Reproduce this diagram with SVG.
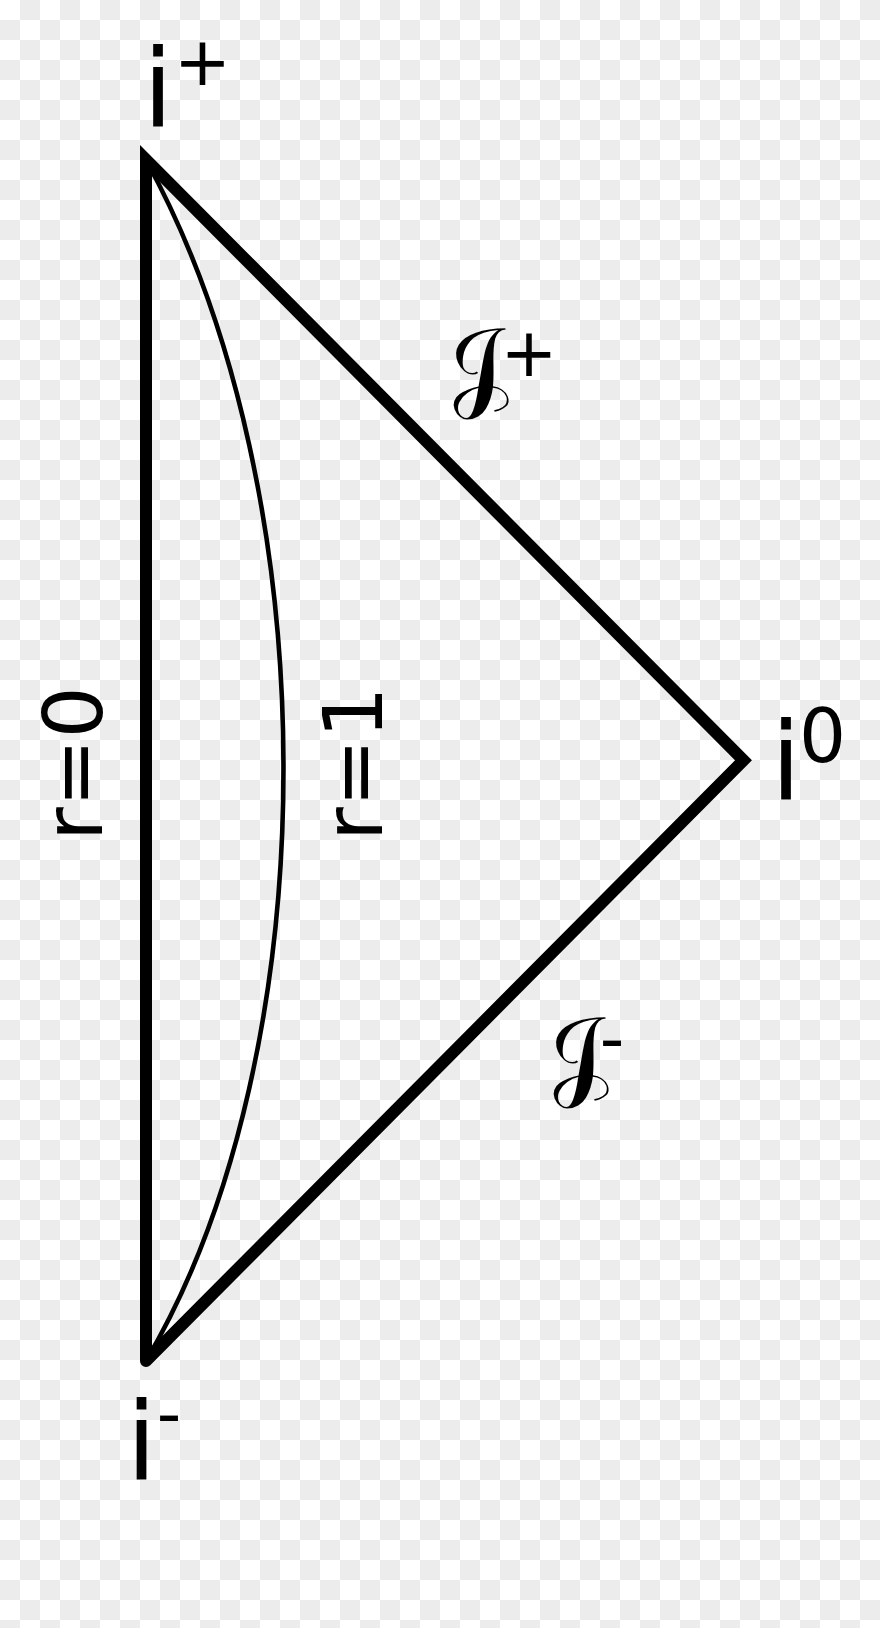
<svg xmlns="http://www.w3.org/2000/svg" width="880" height="1628" viewBox="0 0 880 1628">
<defs>
<pattern id="checker" x="0" y="0" width="40" height="40" patternUnits="userSpaceOnUse">
<rect x="0" y="0" width="40" height="40" fill="#ffffff"/>
<rect x="20" y="0" width="20" height="20" fill="#ececec"/>
<rect x="0" y="20" width="20" height="20" fill="#ececec"/>
</pattern>
<style>
.thick{fill:none;stroke:#000;stroke-width:12;stroke-linejoin:miter;stroke-linecap:round;stroke-miterlimit:10}
.thin{fill:none;stroke:#000;stroke-width:4.6;stroke-linecap:round}
.lbl{font-family:'DejaVu Sans',sans-serif;fill:#000}
.big{font-size:108px}
.sup{font-size:68px}
.rot{font-size:82px}
.scr{font-family:'DejaVu Sans','DejaVu Serif',serif;font-size:100px;fill:#000}
</style>
</defs>
<rect x="0" y="0" width="880" height="1628" fill="url(#checker)"/>
<g id="connectors">
<path id="boundary" class="thick" d="M146,1361 L146,159.5 L743.5,760.3 L146,1361"/>
<path id="r1-curve" class="thin" d="M146,160 C329.3,493 329.3,1050 146,1361"/>
</g>
<g id="node-iplus"><text class="lbl big" x="143" y="127">i</text><text class="lbl sup" x="174" y="85">+</text></g>
<g id="node-i0"><text class="lbl big" x="771" y="800">i</text><text class="lbl" font-size="74" x="799" y="762">0</text></g>
<g id="node-iminus"><text class="lbl big" x="126.5" y="1480">i</text><text class="lbl sup" x="156.7" y="1437">-</text></g>
<g id="node-scriplus"><text class="scr" transform="translate(450,398) skewX(22)">𝒥</text><text class="lbl sup" x="500.5" y="376">+</text></g>
<g id="node-scriminus"><text class="scr" transform="translate(550,1087) skewX(22)">𝒥</text><text class="lbl sup" x="599.7" y="1062">-</text></g>
<g id="node-r0"><text class="lbl rot" x="101.8" y="763.6" text-anchor="middle" transform="rotate(-90 101.8 763.6)">r=0</text></g>
<g id="node-r1"><text class="lbl rot" x="381.8" y="763.6" text-anchor="middle" transform="rotate(-90 381.8 763.6)">r=1</text></g>
</svg>
